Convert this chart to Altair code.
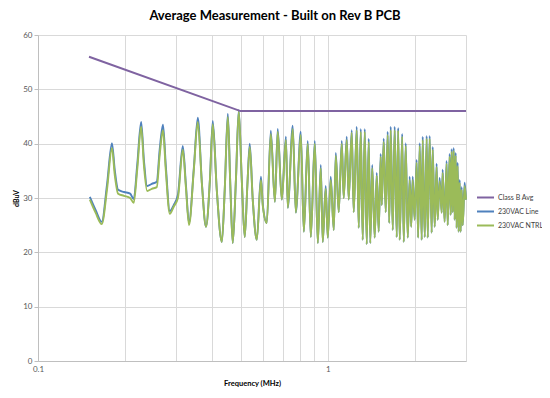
import altair as alt
import pandas as pd

# Frequencies (MHz) of the traced measurement points
FREQ = [0.151, 0.158, 0.166, 0.173, 0.180, 0.184, 0.189, 0.198, 0.208, 0.214,
        0.220, 0.227, 0.232, 0.238, 0.247, 0.257, 0.263, 0.270, 0.276, 0.285,
        0.294, 0.304, 0.316, 0.324, 0.332, 0.345, 0.356, 0.368, 0.380, 0.392,
        0.401, 0.414, 0.431, 0.441, 0.452, 0.461, 0.470, 0.482, 0.493, 0.505,
        0.517, 0.528, 0.538, 0.551, 0.569, 0.588, 0.597, 0.616, 0.636, 0.657,
        0.672, 0.694, 0.717, 0.728, 0.757, 0.776, 0.807, 0.827, 0.853, 0.874,
        0.902, 0.924, 0.946, 0.961, 0.984, 1.000, 1.024, 1.049, 1.066, 1.091,
        1.118, 1.135, 1.163, 1.181, 1.210, 1.229, 1.259, 1.279, 1.300, 1.320,
        1.342, 1.363, 1.385, 1.402, 1.424, 1.452, 1.476, 1.499, 1.523, 1.536,
        1.560, 1.585, 1.610, 1.630, 1.649, 1.676, 1.702, 1.730, 1.750, 1.771,
        1.807, 1.829, 1.858, 1.888, 1.918, 1.941, 1.964, 1.995, 2.027, 2.051,
        2.076, 2.110, 2.126, 2.161, 2.195, 2.213, 2.248, 2.284, 2.302, 2.339,
        2.376, 2.395, 2.433, 2.473, 2.492, 2.531, 2.572, 2.593, 2.635, 2.656,
        2.677, 2.698, 2.720, 2.742, 2.763, 2.785, 2.807, 2.830, 2.853, 2.875,
        2.898, 2.922, 2.968, 3.000]

# 230VAC Line (dBuV)
LINE = [30.2, 27.8, 25.6, 32.4, 40.1, 35.2, 31.5, 31.1, 30.8, 29.8,
        36.1, 44.0, 37.0, 32.2, 32.6, 33.0, 38.9, 43.5, 36.1, 27.6,
        28.7, 30.6, 39.6, 32.4, 25.4, 35.5, 44.8, 32.6, 24.7, 33.3,
        44.2, 31.5, 21.9, 31.5, 45.5, 32.4, 21.7, 33.3, 46.2, 33.3,
        22.8, 32.4, 40.0, 29.7, 22.3, 33.9, 28.7, 25.4, 42.4, 29.3,
        42.7, 29.7, 41.3, 28.2, 43.3, 27.3, 42.2, 23.8, 40.5, 22.8,
        40.5, 21.7, 36.1, 21.9, 32.2, 22.7, 33.9, 24.1, 38.3, 27.4,
        40.5, 30.0, 41.3, 29.7, 42.5, 27.4, 43.1, 24.5, 42.7, 22.3,
        42.7, 21.5, 40.9, 21.7, 36.1, 22.7, 34.6, 23.8, 38.1, 28.7,
        40.9, 27.4, 42.2, 25.4, 43.1, 24.1, 43.1, 22.8, 42.9, 22.3,
        41.8, 21.9, 40.1, 22.7, 33.9, 24.7, 33.9, 26.0, 37.0, 22.7,
        40.1, 22.3, 41.3, 22.8, 41.4, 22.7, 41.4, 23.6, 39.4, 24.7,
        36.3, 26.0, 33.7, 27.3, 35.2, 25.6, 36.8, 25.0, 38.1, 26.9,
        39.0, 27.4, 39.2, 26.0, 38.3, 24.5, 36.5, 23.8, 33.3, 23.8,
        32.0, 25.0, 32.8, 29.7]

# 230VAC NTRL (dBuV)
NTRL = [29.7, 27.3, 25.2, 31.5, 39.2, 34.3, 30.8, 30.4, 30.0, 29.1,
        35.2, 43.1, 36.1, 31.3, 31.7, 32.0, 37.9, 42.5, 35.2, 27.1,
        28.4, 30.0, 38.9, 31.9, 25.0, 35.2, 44.0, 32.4, 24.7, 33.3,
        43.6, 31.5, 21.9, 31.5, 44.9, 32.4, 21.7, 33.3, 45.9, 33.3,
        22.8, 32.4, 39.4, 29.7, 22.3, 33.3, 28.5, 25.4, 41.8, 29.3,
        42.2, 29.7, 40.7, 28.2, 42.7, 27.3, 41.6, 23.8, 40.0, 22.8,
        40.0, 21.7, 35.5, 21.9, 31.7, 22.7, 33.3, 24.1, 37.8, 27.4,
        40.0, 30.0, 40.7, 29.7, 42.0, 27.4, 42.5, 24.5, 42.2, 22.3,
        42.2, 21.5, 40.3, 21.7, 35.5, 22.7, 34.1, 23.8, 37.6, 28.7,
        40.3, 27.4, 41.6, 25.4, 42.5, 24.1, 42.5, 22.8, 42.4, 22.3,
        41.3, 21.9, 39.6, 22.7, 33.3, 24.7, 33.3, 26.0, 36.5, 22.7,
        39.6, 22.3, 40.7, 22.8, 40.9, 22.7, 40.9, 23.6, 38.9, 24.7,
        35.7, 26.0, 33.1, 27.3, 34.6, 25.6, 36.3, 25.0, 37.6, 26.9,
        38.5, 27.4, 38.7, 26.0, 37.8, 24.5, 35.9, 23.8, 32.8, 23.8,
        31.5, 25.0, 32.2, 29.7]

# Class B average limit
LIMIT_FREQ = [0.15, 0.5, 3.0]
LIMIT_DB = [56, 46, 46]

SERIES = ["Class B Avg", "230VAC Line", "230VAC NTRL"]
COLORS = ["#7F63A1", "#4F81BD", "#9BBB59"]

X_GRID = [0.1, 0.2, 0.3, 0.4, 0.5, 0.6, 0.7, 0.8, 0.9, 1, 2, 3]
Y_TICKS = [0, 10, 20, 30, 40, 50, 60]

FONT = "Lato"

df_line = pd.DataFrame({"freq": FREQ, "db": LINE, "series": SERIES[1]})
df_ntrl = pd.DataFrame({"freq": FREQ, "db": NTRL, "series": SERIES[2]})
df_lim = pd.DataFrame({"freq": LIMIT_FREQ, "db": LIMIT_DB, "series": SERIES[0]})

x_enc = alt.X(
    "freq:Q",
    scale=alt.Scale(type="log", domain=[0.1, 3], nice=False),
    axis=alt.Axis(
        values=X_GRID,
        labelExpr="abs(datum.value-0.1)<1e-9 ? '0.1' : (abs(datum.value-1)<1e-9 ? '1' : '')",
        title="Frequency (MHz)",
        titleFontSize=7.5,
        titleFontWeight="bold",
        titleColor="#000000",
        titlePadding=6,
        labelFontSize=8,
        labelColor="#595959",
        labelPadding=4,
        tickSize=0,
        domainColor="#BFBFBF",
        gridColor="#D9D9D9",
        labelFlush=False,
    ),
)
y_enc = alt.Y(
    "db:Q",
    scale=alt.Scale(domain=[0, 60], nice=False),
    axis=alt.Axis(
        values=Y_TICKS,
        title="dBuV",
        titleFontSize=7,
        titleFontWeight="bold",
        titleColor="#000000",
        titlePadding=3,
        labelFontSize=8,
        labelColor="#595959",
        labelPadding=2,
        tickSize=4,
        tickColor="#BFBFBF",
        domainColor="#BFBFBF",
        gridColor="#D9D9D9",
    ),
)
color_enc = alt.Color(
    "series:N",
    scale=alt.Scale(domain=SERIES, range=COLORS),
    legend=alt.Legend(
        title=None,
        orient="none",
        legendX=438,
        legendY=153,
        symbolType="stroke",
        symbolSize=289,
        symbolStrokeWidth=2,
        labelFontSize=7,
        labelColor="#404040",
        labelOffset=3,
        labelLimit=60,
        rowPadding=-1,
    ),
)

blue = alt.Chart(df_line).mark_line(strokeWidth=1.9, interpolate="monotone").encode(
    x=x_enc, y=y_enc, color=color_enc)
green = alt.Chart(df_ntrl).mark_line(strokeWidth=1.9, interpolate="monotone").encode(
    x=x_enc, y=y_enc, color=color_enc)
limit = alt.Chart(df_lim).mark_line(strokeWidth=2).encode(
    x=x_enc, y=y_enc, color=color_enc)

chart = alt.layer(blue, green, limit).properties(
    width=428,
    height=326,
    padding={"left": 30, "top": 27, "right": 76, "bottom": 29},
    autosize=alt.AutoSizeParams(type="none"),
    title=alt.TitleParams(
        "Average Measurement - Built on Rev B PCB",
        fontSize=13,
        fontWeight="bold",
        font=FONT,
        color="#000000",
        anchor="middle",
        dx=23,
        offset=8,
    ),
).configure(
    font=FONT,
).configure_view(
    stroke=None,
)

chart.save("out.html", embed_options={"renderer": "svg", "actions": False})
